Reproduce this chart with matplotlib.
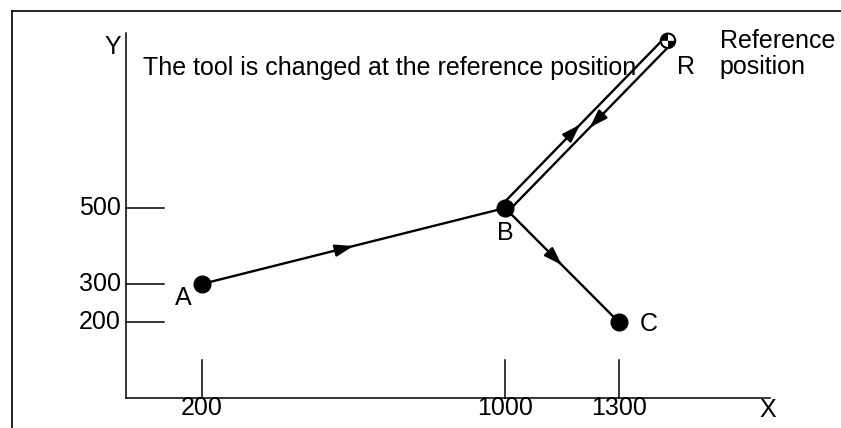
import matplotlib
matplotlib.use("Agg")
import matplotlib.pyplot as plt
import matplotlib.transforms as mtransforms
from matplotlib.patches import Wedge, Circle
import numpy as np

plt.rcParams['font.family'] = ['Liberation Sans', 'DejaVu Sans']

# tool path points
point_names = ['A', 'B', 'C', 'R']
point_x = [200, 1000, 1300, 1430]
point_y = [300, 500, 200, 940]

# axis ticks
x_ticks = [200, 1000, 1300]
y_ticks = [500, 300, 200]

title_text = 'The tool is changed at the reference position'
ref_text = 'Reference\nposition'

FS = 18
LW = 1.7

fig = plt.figure(figsize=(8.41, 4.28), dpi=100)
ax = fig.add_axes([0, 0, 1, 1])
ax.set_xlim(-332.5, 1886.5)
ax.set_ylim(-78.9, 1047.4)
ax.axis('off')

# frame (top and left only)
fig.add_artist(plt.Line2D([12 / 841, 1], [1 - 11 / 428, 1 - 11 / 428], color='black', lw=1.2))
fig.add_artist(plt.Line2D([12 / 841, 12 / 841], [0, 1 - 11 / 428], color='black', lw=1.2))

# axes
ax.plot([0, 1700], [0, 0], color='black', lw=1.1)
ax.plot([0, 0], [0, 960], color='black', lw=1.1)
for xt in x_ticks:
    ax.plot([xt, xt], [0, 100], color='black', lw=1.1)
    ax.text(xt, -26, str(xt), ha='center', va='center', fontsize=FS)
for yt in y_ticks:
    ax.plot([0, 100], [yt, yt], color='black', lw=1.1)
    ax.text(-14, yt, str(yt), ha='right', va='center', fontsize=FS)
ax.text(1694, -31, 'X', ha='center', va='center', fontsize=FS)
ax.text(-34, 924, 'Y', ha='center', va='center', fontsize=FS)

pts = dict(zip(point_names, zip(point_x, point_y)))


def arrow_mid(p0, p1, frac=0.5, transform=None):
    p0 = np.array(p0, float)
    p1 = np.array(p1, float)
    tip = p0 + frac * (p1 - p0)
    tail = tip - 0.02 * (p1 - p0)
    kw = {}
    if transform is not None:
        kw = dict(xycoords=transform, textcoords=transform)
    ax.annotate('', xy=tip, xytext=tail, **kw,
                arrowprops=dict(arrowstyle='-|>,head_length=0.9,head_width=0.3',
                                color='black', lw=LW, shrinkA=0, shrinkB=0,
                                mutation_scale=12))


# A -> B and B -> C
for a, b in [('A', 'B'), ('B', 'C')]:
    ax.plot([pts[a][0], pts[b][0]], [pts[a][1], pts[b][1]], color='black', lw=LW)
    arrow_mid(pts[a], pts[b])

# B <-> R double line, offset in pixels
fig.canvas.draw()
pb = ax.transData.transform(pts['B'])
pr = ax.transData.transform(pts['R'])
d = (pr - pb) / np.hypot(*(pr - pb))
n = np.array([-d[1], d[0]]) * 4.5
up = mtransforms.offset_copy(ax.transData, fig, x=n[0], y=n[1], units='dots')
dn = mtransforms.offset_copy(ax.transData, fig, x=-n[0], y=-n[1], units='dots')
ax.plot([pts['B'][0], pts['R'][0]], [pts['B'][1], pts['R'][1]], color='black', lw=LW, transform=up)
ax.plot([pts['B'][0], pts['R'][0]], [pts['B'][1], pts['R'][1]], color='black', lw=LW, transform=dn)
arrow_mid(pts['B'], pts['R'], 0.48, transform=up)
arrow_mid(pts['R'], pts['B'], 0.50, transform=dn)

# points
for name in ['A', 'B', 'C']:
    ax.plot(*pts[name], 'o', color='black', markersize=12, zorder=5)

# reference position marker
rx, ry = pts['R']
rad = 19
ax.add_patch(Circle((rx, ry), rad, facecolor='white', edgecolor='black', lw=1.5, zorder=6))
ax.add_patch(Wedge((rx, ry), rad, 90, 180, facecolor='black', edgecolor='none', zorder=7))
ax.add_patch(Wedge((rx, ry), rad, 270, 360, facecolor='black', edgecolor='none', zorder=7))

# labels
ax.text(150, 263, 'A', ha='center', va='center', fontsize=FS)
ax.text(1000, 434, 'B', ha='center', va='center', fontsize=FS)
ax.text(1356, 195, 'C', ha='left', va='center', fontsize=FS)
ax.text(1477, 871, 'R', ha='center', va='center', fontsize=FS)
ax.text(45, 868, title_text, ha='left', va='center', fontsize=FS)
ax.text(1567, 906, ref_text, ha='left', va='center', fontsize=FS, linespacing=1.12)

fig.savefig('out.png', dpi=100)
